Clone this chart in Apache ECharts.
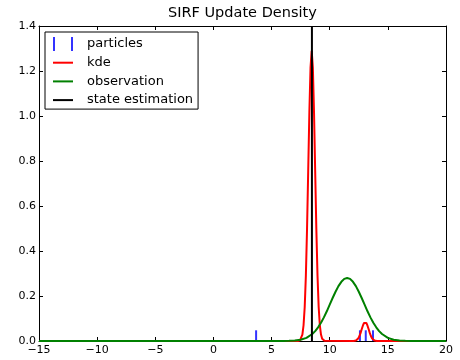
<!DOCTYPE html>
<html>
<head>
<meta charset="utf-8">
<script src="https://cdn.jsdelivr.net/npm/echarts@6/dist/echarts.min.js"></script>
<style>html,body{margin:0;padding:0;background:#fff}#c{width:460px;height:360px}</style>
</head>
<body>
<div id="c"></div>
<script>
var titleText = 'SIRF Update Density';
var seriesNames = ['particles', 'kde', 'observation', 'state estimation'];
var xTicks = [-15, -10, -5, 0, 5, 10, 15, 20];
var yTicks = [0.0, 0.2, 0.4, 0.6, 0.8, 1.0, 1.2, 1.4];

var particleX = [3.67, 12.6, 13.1, 13.72];

var kdeX = [-15,
  7.25, 7.35, 7.45, 7.55, 7.65, 7.75, 7.85, 7.95, 8.05, 8.15, 8.25, 8.35, 8.45,
  8.55, 8.65, 8.75, 8.85, 8.95, 9.05, 9.15, 9.25, 9.35, 9.45, 9.55, 9.65,
  12.05, 12.15, 12.25, 12.35, 12.45, 12.55, 12.65, 12.75, 12.85, 12.95, 13.05,
  13.15, 13.25, 13.35, 13.45, 13.55, 13.65, 13.75, 13.85, 13.95, 14.05,
  20];
var kdeY = [0,
  0.0003, 0.001, 0.0034, 0.0104, 0.0286, 0.070, 0.151, 0.291, 0.498, 0.755, 1.017, 1.215, 1.29,
  1.215, 1.017, 0.755, 0.498, 0.291, 0.151, 0.070, 0.0286, 0.0104, 0.0034, 0.001, 0.0003,
  0.0003, 0.0009, 0.0024, 0.0056, 0.0115, 0.021, 0.035, 0.052, 0.068, 0.080, 0.085,
  0.080, 0.068, 0.052, 0.035, 0.021, 0.0115, 0.0056, 0.0024, 0.0009, 0.0003,
  0];

var obsX = [-15, 6, 6.5, 7, 7.5, 8, 8.5, 8.75, 9, 9.25, 9.5, 9.75, 10, 10.25, 10.5, 10.75,
  11, 11.25, 11.5, 11.75, 12, 12.25, 12.5, 12.75, 13, 13.25, 13.5, 13.75, 14, 14.25, 14.5,
  15, 15.5, 16, 16.5, 17, 20];
var obsY = [0, 0.0002, 0.0006, 0.002, 0.0056, 0.014, 0.031, 0.044, 0.061, 0.081, 0.105, 0.132,
  0.162, 0.191, 0.219, 0.244, 0.263, 0.276, 0.28, 0.276, 0.263, 0.244, 0.219, 0.191, 0.162,
  0.132, 0.105, 0.081, 0.061, 0.044, 0.031, 0.014, 0.0056, 0.002, 0.0006, 0.0002, 0];

var stateX = 8.47;
var stateY = [0, 1.4];

function pairs(xs, ys) { return xs.map(function (x, i) { return [x, ys[i]]; }); }

var FONT = 'DejaVu Sans';
var chart = echarts.init(document.getElementById('c'), null, {renderer: 'canvas'});

function axisCommon(pos, showLabel, isX) {
  var ticks = isX ? xTicks : yTicks;
  return {
    type: 'value',
    position: pos,
    min: ticks[0],
    max: ticks[ticks.length - 1],
    interval: isX ? 5 : 0.2,
    axisLine: {show: true, onZero: false, lineStyle: {color: '#000', width: 1}},
    axisTick: {show: true, inside: true, length: 4, lineStyle: {color: '#000', width: 1}},
    splitLine: {show: false},
    axisLabel: {
      show: showLabel,
      color: '#000',
      fontSize: 11,
      fontFamily: FONT,
      margin: isX ? 4 : 3,
      formatter: function (v) {
        return isX ? String(v).replace('-', '\u2212') : v.toFixed(1);
      }
    }
  };
}

var option = {
  animation: false,
  backgroundColor: '#fff',
  title: {
    text: titleText,
    left: 168,
    top: 6,
    padding: 0,
    textStyle: {fontFamily: FONT, fontSize: 14.5, fontWeight: 'normal', color: '#000'}
  },
  grid: {left: 39, right: 14, top: 26, bottom: 19, containLabel: false},
  xAxis: [axisCommon('bottom', true, true), axisCommon('top', false, true)],
  yAxis: [axisCommon('left', true, false), axisCommon('right', false, false)],
  legend: {
    orient: 'vertical',
    left: 45,
    top: 32,
    padding: [5, 5, 2, 8],
    itemWidth: 20,
    itemHeight: 14,
    itemGap: 4.7,
    backgroundColor: '#fff',
    borderColor: '#000',
    borderWidth: 1,
    borderRadius: 0,
    selectedMode: false,
    textStyle: {fontFamily: FONT, fontSize: 13, color: '#000', lineHeight: 14, padding: [0, 0, 0, 9]},
    data: [
      {name: seriesNames[0], icon: 'path://M0,0H2V14H0ZM18,0H20V14H18Z'},
      {name: seriesNames[1], icon: 'path://M0,0H20V2H0Z'},
      {name: seriesNames[2], icon: 'path://M0,0H20V2H0Z'},
      {name: seriesNames[3], icon: 'path://M0,0H20V2H0Z'}
    ]
  },
  series: [
    {
      name: seriesNames[0],
      type: 'scatter',
      data: particleX.map(function (x) { return [x, 0]; }),
      symbol: 'rect',
      symbolSize: [2, 10.7],
      symbolOffset: [0, -5.35],
      itemStyle: {color: '#0000ff'},
      silent: true,
      z: 2
    },
    {
      name: seriesNames[1],
      type: 'line',
      data: pairs(kdeX, kdeY),
      showSymbol: false,
      symbol: 'none',
      lineStyle: {color: '#ff0000', width: 2},
      itemStyle: {color: '#ff0000'},
      silent: true,
      z: 3
    },
    {
      name: seriesNames[2],
      type: 'line',
      data: pairs(obsX, obsY),
      showSymbol: false,
      symbol: 'none',
      lineStyle: {color: '#008000', width: 2},
      itemStyle: {color: '#008000'},
      silent: true,
      z: 4
    },
    {
      name: seriesNames[3],
      type: 'line',
      data: stateY.map(function (y) { return [stateX, y]; }),
      showSymbol: false,
      symbol: 'none',
      lineStyle: {color: '#000000', width: 2},
      itemStyle: {color: '#000000'},
      silent: true,
      z: 5
    }
  ]
};
chart.setOption(option);
</script>
</body>
</html>
